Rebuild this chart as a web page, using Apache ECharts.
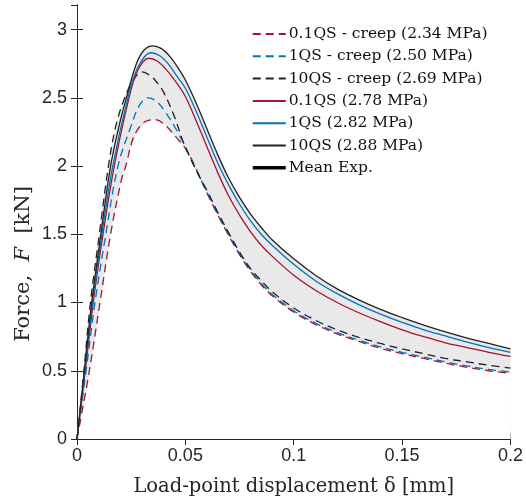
<!DOCTYPE html>
<html>
<head>
<meta charset="utf-8">
<script src="https://cdn.jsdelivr.net/npm/echarts@6/dist/echarts.min.js"></script>
<style>
  html, body { margin: 0; padding: 0; background: #fff; }
  #chart { width: 526px; height: 502px; }
</style>
</head>
<body>
<div id="chart"></div>
<script>
// curves: [displacement mm, force kN]
var qs01Creep = [[0,0],[0.0057,0.5],[0.0106,1.0],[0.0155,1.5],[0.0205,1.9],[0.0225,2.0],[0.0258,2.2],[0.029,2.29],[0.032,2.33],[0.036,2.34],[0.04,2.31],[0.0458,2.21],[0.05,2.13],[0.0535,2.03],[0.06,1.80],[0.065,1.64],[0.07,1.49],[0.075,1.35],[0.08,1.23],[0.085,1.13],[0.09,1.05],[0.1,0.93],[0.11,0.84],[0.12,0.77],[0.13,0.715],[0.14,0.665],[0.15,0.625],[0.16,0.59],[0.17,0.555],[0.18,0.525],[0.19,0.50],[0.2,0.48]];
var qs1Creep = [[0,0],[0.0042,0.5],[0.0083,1.0],[0.0133,1.5],[0.0189,2.0],[0.0251,2.3],[0.029,2.45],[0.033,2.50],[0.037,2.47],[0.041,2.39],[0.045,2.29],[0.05,2.14],[0.055,1.97],[0.06,1.81],[0.065,1.645],[0.07,1.50],[0.075,1.36],[0.08,1.24],[0.085,1.14],[0.09,1.06],[0.1,0.94],[0.11,0.85],[0.12,0.78],[0.13,0.725],[0.14,0.675],[0.15,0.635],[0.16,0.60],[0.17,0.565],[0.18,0.535],[0.19,0.51],[0.2,0.49]];
var qs10Creep = [[0,0],[0.0032,0.5],[0.0062,1.0],[0.0103,1.5],[0.0145,2.0],[0.018,2.3],[0.022,2.5],[0.026,2.63],[0.030,2.69],[0.034,2.66],[0.037,2.61],[0.04,2.54],[0.045,2.36],[0.0487,2.19],[0.0525,2.05],[0.0566,1.92],[0.06,1.82],[0.065,1.66],[0.07,1.51],[0.075,1.37],[0.08,1.25],[0.085,1.16],[0.09,1.08],[0.1,0.96],[0.11,0.87],[0.12,0.80],[0.13,0.745],[0.14,0.70],[0.15,0.66],[0.16,0.625],[0.17,0.59],[0.18,0.565],[0.19,0.54],[0.2,0.52]];
var qs01 = [[0,0],[0.0038,0.5],[0.0075,1.0],[0.012,1.5],[0.0172,2.0],[0.024,2.5],[0.028,2.70],[0.033,2.79],[0.037,2.77],[0.041,2.71],[0.045,2.63],[0.05,2.51],[0.055,2.33],[0.06,2.14],[0.065,1.95],[0.07,1.78],[0.075,1.64],[0.08,1.52],[0.085,1.42],[0.09,1.34],[0.1,1.20],[0.11,1.09],[0.12,1.00],[0.13,0.925],[0.14,0.86],[0.15,0.80],[0.16,0.75],[0.17,0.705],[0.18,0.67],[0.19,0.635],[0.2,0.605]];
var qs1 = [[0,0],[0.0036,0.5],[0.0071,1.0],[0.0115,1.5],[0.0165,2.0],[0.0235,2.5],[0.028,2.72],[0.034,2.83],[0.038,2.81],[0.042,2.75],[0.046,2.66],[0.05,2.57],[0.055,2.40],[0.06,2.21],[0.065,2.02],[0.07,1.86],[0.075,1.72],[0.08,1.60],[0.085,1.50],[0.09,1.42],[0.1,1.28],[0.11,1.16],[0.12,1.065],[0.13,0.985],[0.14,0.915],[0.15,0.855],[0.16,0.80],[0.17,0.755],[0.18,0.71],[0.19,0.67],[0.2,0.635]];
var qs10 = [[0,0],[0.0034,0.5],[0.0068,1.0],[0.011,1.5],[0.0155,2.0],[0.0195,2.3],[0.0228,2.5],[0.0274,2.75],[0.031,2.85],[0.035,2.88],[0.039,2.86],[0.043,2.80],[0.047,2.71],[0.05,2.63],[0.055,2.46],[0.06,2.27],[0.065,2.08],[0.07,1.91],[0.075,1.77],[0.08,1.65],[0.085,1.55],[0.09,1.46],[0.1,1.32],[0.11,1.20],[0.12,1.10],[0.13,1.02],[0.14,0.95],[0.15,0.89],[0.16,0.835],[0.17,0.785],[0.18,0.74],[0.19,0.70],[0.2,0.66]];

// grey scatter band (upper / lower edge)
var bandX    = [0,0.005,0.01,0.015,0.02,0.025,0.03,0.035,0.04,0.045,0.05,0.055,0.06,0.065,0.07,0.075,0.08,0.09,0.1,0.11,0.12,0.13,0.14,0.15,0.16,0.17,0.18,0.19,0.2];
var bandHigh = [0,0.85,1.47,2.04,2.41,2.64,2.83,2.88,2.85,2.75,2.63,2.46,2.27,2.08,1.91,1.77,1.65,1.46,1.32,1.20,1.10,1.02,0.95,0.89,0.835,0.785,0.74,0.70,0.66];
var bandLow  = [0,0.40,0.92,1.44,1.86,2.14,2.29,2.34,2.31,2.22,2.12,1.97,1.80,1.64,1.49,1.35,1.23,1.05,0.93,0.84,0.77,0.715,0.665,0.625,0.59,0.555,0.525,0.50,0.48];

var names = ['0.1QS - creep (2.34 MPa)', '1QS - creep (2.50 MPa)', '10QS - creep (2.69 MPa)',
             '0.1QS (2.78 MPa)', '1QS (2.82 MPa)', '10QS (2.88 MPa)', 'Mean Exp.'];
var RED = '#A2142F', BLUE = '#0072BD', DARK = '#222222';

function zip(xs, ys) {
    var out = [];
    for (var i = 0; i < xs.length; i++) out.push([xs[i], ys[i]]);
    return out;
}
function curve(name, data, color, dashed) {
    return {
        name: name, type: 'line', data: data, showSymbol: false, symbol: 'none',
        smooth: 0.35, z: 5,
        lineStyle: { color: color, width: 1.3, type: dashed ? [8, 5] : 'solid' },
        itemStyle: { color: color }
    };
}

var legendData = names.map(function (n, i) {
    if (i === 6) return { name: n, lineStyle: { width: 3.5, color: '#000' } };
    return { name: n };
});

var axisCol = '#262626';
var serif = 'DejaVu Serif';
var myChart = echarts.init(document.getElementById('chart'));
var option = {
    animation: false,
    grid: { left: 77, right: 14, top: 5, bottom: 63 },
    legend: {
        data: legendData, orient: 'vertical', left: 246, top: 20,
        itemWidth: 33, itemHeight: 12, itemGap: 4.3,
        itemStyle: { opacity: 0 },
        textStyle: { fontFamily: serif, fontSize: 15.5, lineHeight: 18, color: '#111', padding: [0, 0, 0, -2] }
    },
    graphic: [{
        type: 'text', x: 24, y: 264, rotation: Math.PI / 2,
        style: {
            text: 'Force,  {i|F}  [kN]', align: 'center', verticalAlign: 'middle',
            font: '21px "DejaVu Serif"', fill: axisCol,
            rich: { i: { fontStyle: 'italic', fontFamily: serif, fontSize: 21, fill: axisCol, color: axisCol } }
        }
    }],
    xAxis: [{
        type: 'value', min: 0, max: 0.2, interval: 0.05,
        name: 'Load-point displacement δ [mm]', nameLocation: 'middle', nameGap: 38,
        nameTextStyle: { fontFamily: serif, fontSize: 19.5, color: axisCol },
        axisLine: { lineStyle: { color: axisCol } },
        axisTick: { inside: true, length: 6, lineStyle: { color: axisCol } },
        axisLabel: { fontFamily: 'Liberation Sans', fontSize: 18, color: axisCol, margin: 8 },
        splitLine: { show: false }
    }, {
        type: 'value', min: 0, max: 0.2, interval: 0.05, position: 'top',
        axisLine: { show: true, lineStyle: { color: axisCol } },
        axisTick: { inside: true, length: 6, lineStyle: { color: axisCol } },
        axisLabel: { show: false }, splitLine: { show: false }
    }],
    yAxis: [{
        type: 'value', min: 0, max: 3.18, interval: 0.5,
        axisLine: { show: true, lineStyle: { color: axisCol } },
        axisTick: { inside: true, length: 6, lineStyle: { color: axisCol } },
        axisLabel: { fontFamily: 'Liberation Sans', fontSize: 18, color: axisCol, margin: 10, showMaxLabel: false },
        splitLine: { show: false }
    }, {
        type: 'value', min: 0, max: 3.18, interval: 0.5, position: 'right',
        axisLine: { show: true, lineStyle: { color: axisCol } },
        axisTick: { inside: true, length: 6, lineStyle: { color: axisCol } },
        axisLabel: { show: false }, splitLine: { show: false }
    }],
    series: [
        {
            name: 'bandHigh', type: 'line', data: zip(bandX, bandHigh), showSymbol: false, symbol: 'none',
            smooth: 0.35, z: 1, lineStyle: { width: 0 }, areaStyle: { color: '#e9e9e9', opacity: 1 }
        },
        {
            name: 'bandLow', type: 'line', data: zip(bandX, bandLow), showSymbol: false, symbol: 'none',
            smooth: 0.35, z: 2, lineStyle: { width: 0 }, areaStyle: { color: '#ffffff', opacity: 1 }
        },
        curve(names[0], qs01Creep, RED, true),
        curve(names[1], qs1Creep, BLUE, true),
        curve(names[2], qs10Creep, DARK, true),
        curve(names[3], qs01, RED, false),
        curve(names[4], qs1, BLUE, false),
        curve(names[5], qs10, DARK, false),
        {
            name: names[6], type: 'line', data: [], showSymbol: false, symbol: 'none',
            lineStyle: { color: '#000', width: 3.5 }, itemStyle: { color: '#000' }
        }
    ]
};
myChart.setOption(option);
</script>
</body>
</html>
